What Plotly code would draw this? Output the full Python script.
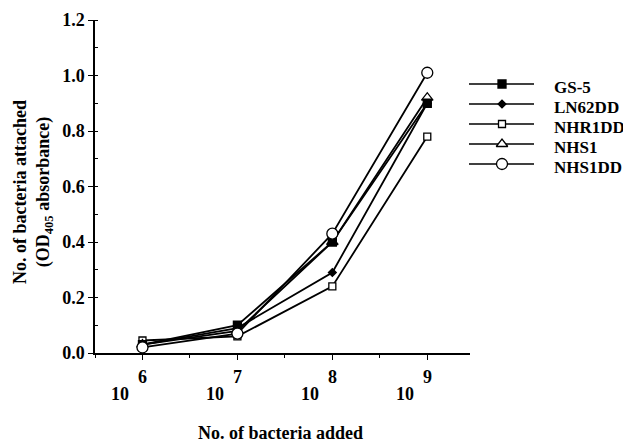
import plotly.graph_objects as go

# page body has an 8px margin, so the figure is drawn offset by OFF
VIEW_W, VIEW_H, OFF = 631, 443, 8
W, H = VIEW_W - OFF, VIEW_H - OFF

# ---- data ----
log_bacteria_added = [6, 7, 8, 9]
series_names = ["GS-5", "LN62DD", "NHR1DD", "NHS1", "NHS1DD"]
gs5 = [0.03, 0.10, 0.40, 0.90]
ln62dd = [0.03, 0.09, 0.29, 0.90]
nhr1dd = [0.045, 0.06, 0.24, 0.78]
nhs1 = [0.03, 0.08, 0.40, 0.92]
nhs1dd = [0.02, 0.07, 0.43, 1.01]

series_values = [gs5, ln62dd, nhr1dd, nhs1, nhs1dd]

styles = {
    "GS-5": dict(symbol="square", size=8, color="black"),
    "LN62DD": dict(symbol="diamond", size=6, color="black"),
    "NHR1DD": dict(symbol="square", size=7, color="white"),
    "NHS1": dict(symbol="triangle-up", size=10, color="white"),
    "NHS1DD": dict(symbol="circle", size=11, color="white"),
}

FONT = "Liberation Serif"
FS = 18

# plot area in screen pixels
L, R, T, B = 95, 470, 20, 353

fig = go.Figure()

# draw order so that filled square sits on top of the triangle at shared points
draw_order = ["LN62DD", "NHR1DD", "NHS1", "GS-5", "NHS1DD"]
for name in draw_order:
    vals = series_values[series_names.index(name)]
    st = styles[name]
    fig.add_trace(go.Scatter(
        x=log_bacteria_added, y=vals, mode="lines+markers", name=name,
        line=dict(color="black", width=1.8),
        marker=dict(symbol=st["symbol"], size=st["size"], color=st["color"],
                    line=dict(color="black", width=1.3)),
        cliponaxis=False, showlegend=False, xaxis="x", yaxis="y",
    ))

# custom legend drawn in a screen-pixel overlay axis
leg_rows = [84, 104, 124, 144, 164]
for name, ry in zip(series_names, leg_rows):
    st = styles[name]
    fig.add_trace(go.Scatter(
        x=[469, 534], y=[ry, ry], mode="lines",
        line=dict(color="black", width=1.5),
        showlegend=False, xaxis="x2", yaxis="y2", hoverinfo="skip",
    ))
    fig.add_trace(go.Scatter(
        x=[502], y=[ry], mode="markers",
        marker=dict(symbol=st["symbol"], size=st["size"], color=st["color"],
                    line=dict(color="black", width=1.3)),
        showlegend=False, xaxis="x2", yaxis="y2", hoverinfo="skip",
    ))
    fig.add_annotation(x=552, y=ry + 3, xref="x2", yref="y2", text=f"<b>{name}</b>",
                       showarrow=False, xanchor="left", yanchor="middle",
                       font=dict(family=FONT, size=17, color="black"))

# x tick labels: 10^n
for e in log_bacteria_added:
    fig.add_annotation(x=e, y=0, xref="x", yref="y", text=f"<b>{e}</b>",
                       showarrow=False, xanchor="center", yanchor="middle",
                       yshift=-24, font=dict(family=FONT, size=FS, color="black"))
    fig.add_annotation(x=e, y=0, xref="x", yref="y", text="<b>10</b>",
                       showarrow=False, xanchor="center", yanchor="middle",
                       xshift=-22, yshift=-41, font=dict(family=FONT, size=FS, color="black"))

fig.add_annotation(x=280, y=433, xref="x2", yref="y2", text="<b>No. of bacteria added</b>",
                   showarrow=False, xanchor="center", yanchor="middle",
                   font=dict(family=FONT, size=FS, color="black"))
fig.add_annotation(x=33, y=192, xref="x2", yref="y2",
                   text="<b>No. of bacteria attached</b><br><b>(OD<sub>405</sub> absorbance)</b>",
                   showarrow=False, textangle=-90, xanchor="center", yanchor="middle",
                   font=dict(family=FONT, size=FS, color="black"))

fig.update_layout(
    width=W, height=H, autosize=False,
    margin=dict(l=0, r=0, t=0, b=0, pad=0),
    paper_bgcolor="white", plot_bgcolor="rgba(0,0,0,0)",
    showlegend=False,
    xaxis=dict(domain=[(L - OFF) / W, (R - OFF) / W], range=[5.5, 9.45],
               showgrid=False, zeroline=False, automargin=False,
               showline=True, linecolor="black", linewidth=1.5,
               tickmode="linear", tick0=6, dtick=1, ticks="outside", ticklen=5,
               tickwidth=1.3, tickcolor="black", showticklabels=False,
               minor=dict(dtick=0.5, tick0=6, ticks="outside", ticklen=3,
                          tickcolor="black", tickwidth=1, showgrid=False),
               anchor="y"),
    yaxis=dict(domain=[(VIEW_H - B) / H, (VIEW_H - T) / H], range=[0, 1.2], showgrid=False,
               zeroline=False, automargin=False,
               showline=True, linecolor="black", linewidth=1.5,
               tickmode="linear", tick0=0, dtick=0.2, tickformat=".1f",
               ticks="outside", ticklen=5, tickwidth=1.3, tickcolor="black",
               tickfont=dict(family=FONT, size=FS, color="black", weight="bold"),
               minor=dict(dtick=0.1, tick0=0, ticks="inside", ticklen=3,
                          tickcolor="black", tickwidth=1, showgrid=False),
               anchor="x"),
    xaxis2=dict(domain=[0, 1], range=[OFF, VIEW_W], visible=False, anchor="y2",
                fixedrange=True, automargin=False),
    yaxis2=dict(domain=[0, 1], range=[VIEW_H, OFF], visible=False, anchor="x2",
                fixedrange=True, automargin=False),
)

fig.write_html("out.html")
